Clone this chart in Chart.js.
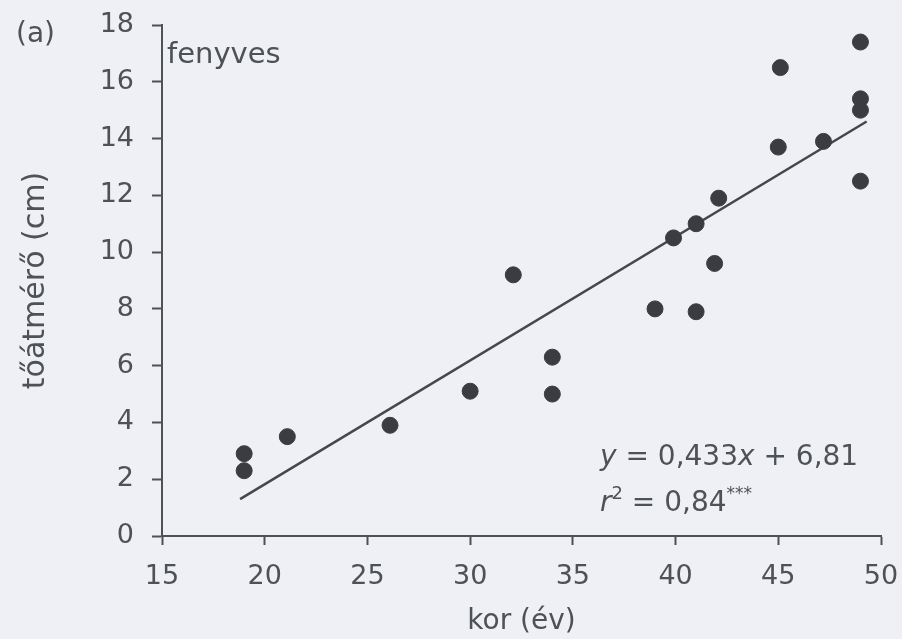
<!DOCTYPE html>
<html>
<head>
<meta charset="utf-8">
<script src="https://cdn.jsdelivr.net/npm/chart.js@4.4.1/dist/chart.umd.min.js"></script>
<style>
  html, body { margin: 0; padding: 0; background: #eef0f5; }
  #chart { display: block; }
</style>
</head>
<body>
<canvas id="chart" width="902" height="639"></canvas>
<script>
// age (years) and base diameter (cm)
const ages      = [19, 19, 21.1, 26.1, 30, 32.1, 34, 34, 39, 39.9, 41, 41, 41.9, 42.1, 45, 45.1, 47.2, 49, 49, 49, 49];
const diameters = [2.9, 2.3, 3.5, 3.9, 5.1, 9.2, 6.3, 5.0, 8.0, 10.5, 11.0, 7.9, 9.6, 11.9, 13.7, 16.5, 13.9, 17.4, 15.4, 15.0, 12.5];
// fitted line end points
const fitX = [18.8, 49.3];
const fitY = [1.3, 14.6];

const xTicks = [15, 20, 25, 30, 35, 40, 45, 50];
const yTicks = [0, 2, 4, 6, 8, 10, 12, 14, 16, 18];

const panelLabel = '(a)';
const standLabel = 'fenyves';

const ink = '#4e5156';
const dotColor = '#3b3c40';
const fontFamily = '"DejaVu Sans", sans-serif';

const points = ages.map((a, i) => ({ x: a, y: diameters[i] }));
const fitLine = fitX.map((a, i) => ({ x: a, y: fitY[i] }));

// extra texts: panel letter, stand name, regression equation
const annotations = {
    id: 'annotations',
    afterDraw(chart) {
        const c = chart.ctx;
        c.save();
        c.fillStyle = ink;
        c.textBaseline = 'alphabetic';
        c.textAlign = 'left';
        c.font = '28px ' + fontFamily;
        c.fillText(panelLabel, 16, 42);
        c.font = '29px ' + fontFamily;
        c.fillText(standLabel, 167, 63);

        // y = 0,433x + 6,81
        let x = 600, y = 465;
        const part = (txt, font, dy = 0) => {
            c.font = font;
            c.fillText(txt, x, y + dy);
            x += c.measureText(txt).width;
        };
        part('y', 'italic 28px ' + fontFamily);
        part(' = 0,433', '28px ' + fontFamily);
        part('x', 'italic 28px ' + fontFamily);
        part(' + 6,81', '28px ' + fontFamily);

        // r2 = 0,84***
        x = 600; y = 511;
        part('r', 'italic 28px ' + fontFamily);
        part('2', '18px ' + fontFamily, -12);
        part(' = 0,84', '28px ' + fontFamily);
        part('***', '17px ' + fontFamily, -12);
        c.restore();
    }
};

new Chart(document.getElementById('chart'), {
    type: 'scatter',
    data: {
        datasets: [{
            label: 'fa',
            data: points,
            backgroundColor: dotColor,
            borderColor: dotColor,
            pointRadius: 8,
            pointHoverRadius: 8
        }, {
            label: 'illesztés',
            data: fitLine,
            showLine: true,
            borderColor: '#45474b',
            borderWidth: 2.5,
            pointRadius: 0,
            fill: false
        }]
    },
    options: {
        responsive: false,
        animation: false,
        events: [],
        layout: { padding: { top: 25, right: 21, left: 0, bottom: 0 } },
        plugins: {
            legend: { display: false },
            tooltip: { enabled: false }
        },
        scales: {
            x: {
                type: 'linear',
                min: 15,
                max: 50,
                afterBuildTicks: s => { s.ticks = xTicks.map(v => ({ value: v })); },
                afterFit: s => { s.height = 103; s.paddingLeft = 0; s.paddingRight = 0; },
                grid: { drawOnChartArea: false, drawTicks: true, tickLength: 9, tickWidth: 2, color: ink },
                border: { color: ink, width: 2 },
                ticks: { color: ink, font: { family: fontFamily, size: 27 }, padding: 16 },
                title: { display: true, text: 'kor (év)', color: ink, font: { family: fontFamily, size: 28 }, padding: { top: 0, bottom: 0 } }
            },
            y: {
                type: 'linear',
                min: 0,
                max: 18,
                afterBuildTicks: s => { s.ticks = yTicks.map(v => ({ value: v })); },
                afterFit: s => { s.width = 162; s.paddingTop = 0; s.paddingBottom = 0; },
                grid: { drawOnChartArea: false, drawTicks: true, tickLength: 10, tickWidth: 2, color: ink },
                border: { color: ink, width: 2 },
                ticks: { color: ink, font: { family: fontFamily, size: 27 }, padding: 18 },
                title: { display: true, text: 'tőátmérő (cm)', color: ink, font: { family: fontFamily, size: 30 }, padding: { top: 18, bottom: 0 } }
            }
        }
    },
    plugins: [annotations]
});
</script>
</body>
</html>
